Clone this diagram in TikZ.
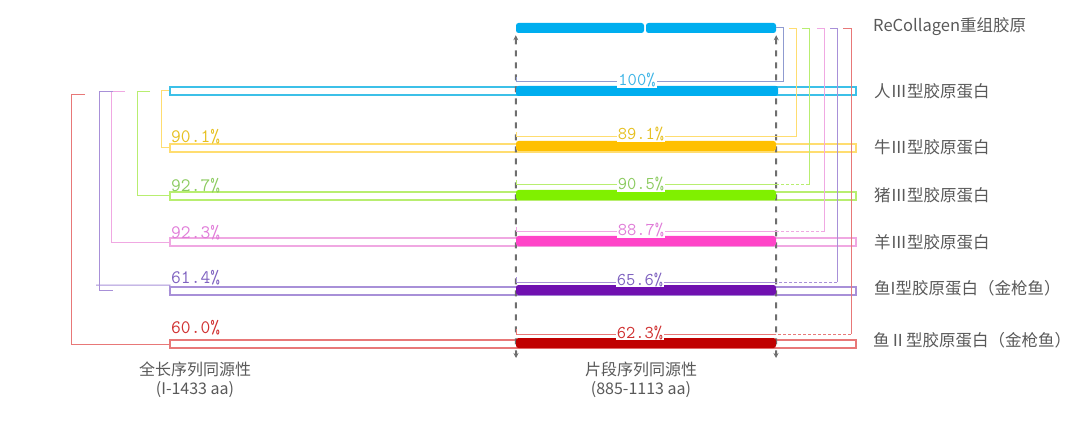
\documentclass[tikz,border=0pt]{standalone}
\usepackage{fontspec}
\setmainfont{Noto Sans CJK SC}
\usetikzlibrary{arrows.meta}
\definecolor{labelgray}{HTML}{595959}
\definecolor{guidegray}{HTML}{6E6E6E}
\definecolor{cHb}{HTML}{00AEEF}
\definecolor{cHl}{HTML}{3CC0E8}
\definecolor{cHf}{HTML}{8F9BD0}
\definecolor{cHt}{HTML}{3CB4E6}
\definecolor{cBb}{HTML}{FFC000}
\definecolor{cBl}{HTML}{FFDD70}
\definecolor{cBt}{HTML}{E6C020}
\definecolor{cPb}{HTML}{80F000}
\definecolor{cPl}{HTML}{B8EE70}
\definecolor{cPt}{HTML}{8CCB60}
\definecolor{cSb}{HTML}{FF44C8}
\definecolor{cSl}{HTML}{F0A8E2}
\definecolor{cSt}{HTML}{E07CD8}
\definecolor{cFb}{HTML}{7010B0}
\definecolor{cFl}{HTML}{A890D8}
\definecolor{cFt}{HTML}{7F62C0}
\definecolor{cRb}{HTML}{C00000}
\definecolor{cRl}{HTML}{E87878}
\definecolor{cRt}{HTML}{D03030}
\begin{document}
\begin{tikzpicture}[x=1pt,y=-1pt,
  thinrect/.style={draw, line width=1.1pt, inner sep=0pt, minimum width=686pt, minimum height=8pt},
  bar/.style={fill, rounded corners=2.5pt, inner sep=0pt, minimum height=10pt},
  brk/.style={line width=1pt},
  dbrk/.style={line width=1pt, dash pattern=on 3pt off 2pt},
  pct/.style={font=\ttfamily\fontsize{19}{20}\selectfont, inner sep=0pt, anchor=base west},
  fpct/.style={font=\ttfamily\fontsize{18}{20}\selectfont, inner sep=1pt, fill=white, anchor=base},
  spname/.style={font=\fontsize{16.5}{20}\selectfont, text=labelgray, anchor=west, inner sep=0pt},
  axname/.style={font=\fontsize{16}{19}\selectfont, text=labelgray, align=center, inner sep=0pt},
  guide/.style={draw=guidegray, line width=2pt, dash pattern=on 6pt off 6pt, {Stealth[length=5pt,width=5pt]}-{Stealth[length=5pt,width=5pt]}}
]
\useasboundingbox (0,0) rectangle (1080,425);

% thin full-length rectangles
\node[thinrect, draw=cHl] (rH) at (513,91) {};
\node[thinrect, draw=cBl] (rB) at (513,148) {};
\node[thinrect, draw=cPl] (rP) at (513,196) {};
\node[thinrect, draw=cSl] (rS) at (513,242) {};
\node[thinrect, draw=cFl] (rF) at (513,291) {};
\node[thinrect, draw=cRl] (rR) at (513,344) {};

% top bar (ReCollagen)
\node[bar, fill=cHb, minimum width=128pt] (t1) at (580,28) {};
\node[bar, fill=cHb, minimum width=130pt] (t2) at (711,28) {};

% guide dashed lines
\coordinate (gL) at (516,358);
\coordinate (gR) at (776,358);
\draw[guide] ([yshift=-2pt]t1.south west) -- (gL);
\draw[guide] ([yshift=-2pt]t2.south east) -- (gR);

% fragment bars
\node[bar, fill=cHb, minimum width=262pt] (bH) at (647,91) {};
\node[bar, fill=cBb, minimum width=260pt] (bB) at (646,146) {};
\node[bar, fill=cPb, minimum width=260pt] (bP) at (646,195) {};
\node[bar, fill=cSb, minimum width=260pt] (bS) at (646,241) {};
\node[bar, fill=cFb, minimum width=260pt] (bF) at (646,290) {};
\node[bar, fill=cRb, minimum width=260pt] (bR) at (646,343) {};

% left brackets (full-length identity)
\draw[brk, draw=cBl] (rH.west) -- (161,91) |- (rB.west);
\draw[brk, draw=cPl] (150,92) -- (137,92) |- (rP.west);
\draw[brk, draw=cSl] (125,92) -- (111,92) |- (rS.west);
\draw[brk, draw=cFl] (113,92) -- (99,92) -- (99,290) -- (113,290);
\draw[brk, draw=cFl] (96,285) -- (170,285) -- (rF.west);
\draw[brk, draw=cRl] (85,95) -- (71,95) |- (rR.west);

% left labels
\node[pct, text=cBt] (pB) at (171,143) {90.1\%};
\node[pct, text=cPt] (pP) at (171,192) {92.7\%};
\node[pct, text=cSt] (pS) at (171,238) {92.3\%};
\node[pct, text=cFt] (pF) at (171,283) {61.4\%};
\node[pct, text=cRt] (pR) at (171,333) {60.0\%};

% fragment identity lines
\draw[brk, draw=cHf] (516,77) |- (776,82);
\draw[brk, draw=cBl] (516,132) |- (776,137);
\draw[brk, draw=cPl] (516,180) |- (776,185);
\draw[brk, draw=cSl] (516,227) |- (776,232);
\draw[brk, draw=cFl] (516,277) |- (776,282);
\draw[brk, draw=cRl] (516,329) |- (776,334);

\node[fpct, text=cHt] (fH) at (637,86) {100\%};
\node[fpct, text=cBt] (fB) at (641,140) {89.1\%};
\node[fpct, text=cPt] (fP) at (641,190) {90.5\%};
\node[fpct, text=cSt] (fS) at (641,236) {88.7\%};
\node[fpct, text=cFt] (fF) at (640,285) {65.6\%};
\node[fpct, text=cRt] (fR) at (640,338) {62.3\%};

% right brackets
\draw[brk, draw=cHf] (t2.east) -- (783,28) -- (783,82) -- (776,82);
\draw[brk, draw=cBl] (789,29) -- (796,29) -- (796,137) -- (776,137);
\draw[brk, draw=cPl] (802,29) -- (809,29) -- (809,185);
\draw[dbrk, draw=cPl] (809,185) -- (776,185);
\draw[brk, draw=cSl] (817,29) -- (824,29) -- (824,232);
\draw[dbrk, draw=cSl] (824,232) -- (776,232);
\draw[brk, draw=cFl] (830,29) -- (837,29) -- (837,282);
\draw[dbrk, draw=cFl] (837,282) -- (776,282);
\draw[brk, draw=cRl] (843,29) -- (851,29) -- (851,334);
\draw[dbrk, draw=cRl] (851,334) -- (776,334);

% right labels
\node[spname] (tRe) at (873,27) {ReCollagen重组胶原};
\node[spname] (tH) at (874,91) {人Ⅲ型胶原蛋白};
\node[spname] (tB) at (874,147) {牛Ⅲ型胶原蛋白};
\node[spname] (tP) at (874,195) {猪Ⅲ型胶原蛋白};
\node[spname] (tS) at (874,242) {羊Ⅲ型胶原蛋白};
\node[spname] (tF) at (874,288) {鱼I型胶原蛋白（金枪鱼）};
\node[spname] (tR) at (873,340) {鱼Ⅱ型胶原蛋白（金枪鱼）};

% bottom labels
\node[axname] (axL) at (195,380) {全长序列同源性\\(I-1433 aa)};
\node[axname] (axR) at (641,380) {片段序列同源性\\(885-1113 aa)};
\end{tikzpicture}
\end{document}
